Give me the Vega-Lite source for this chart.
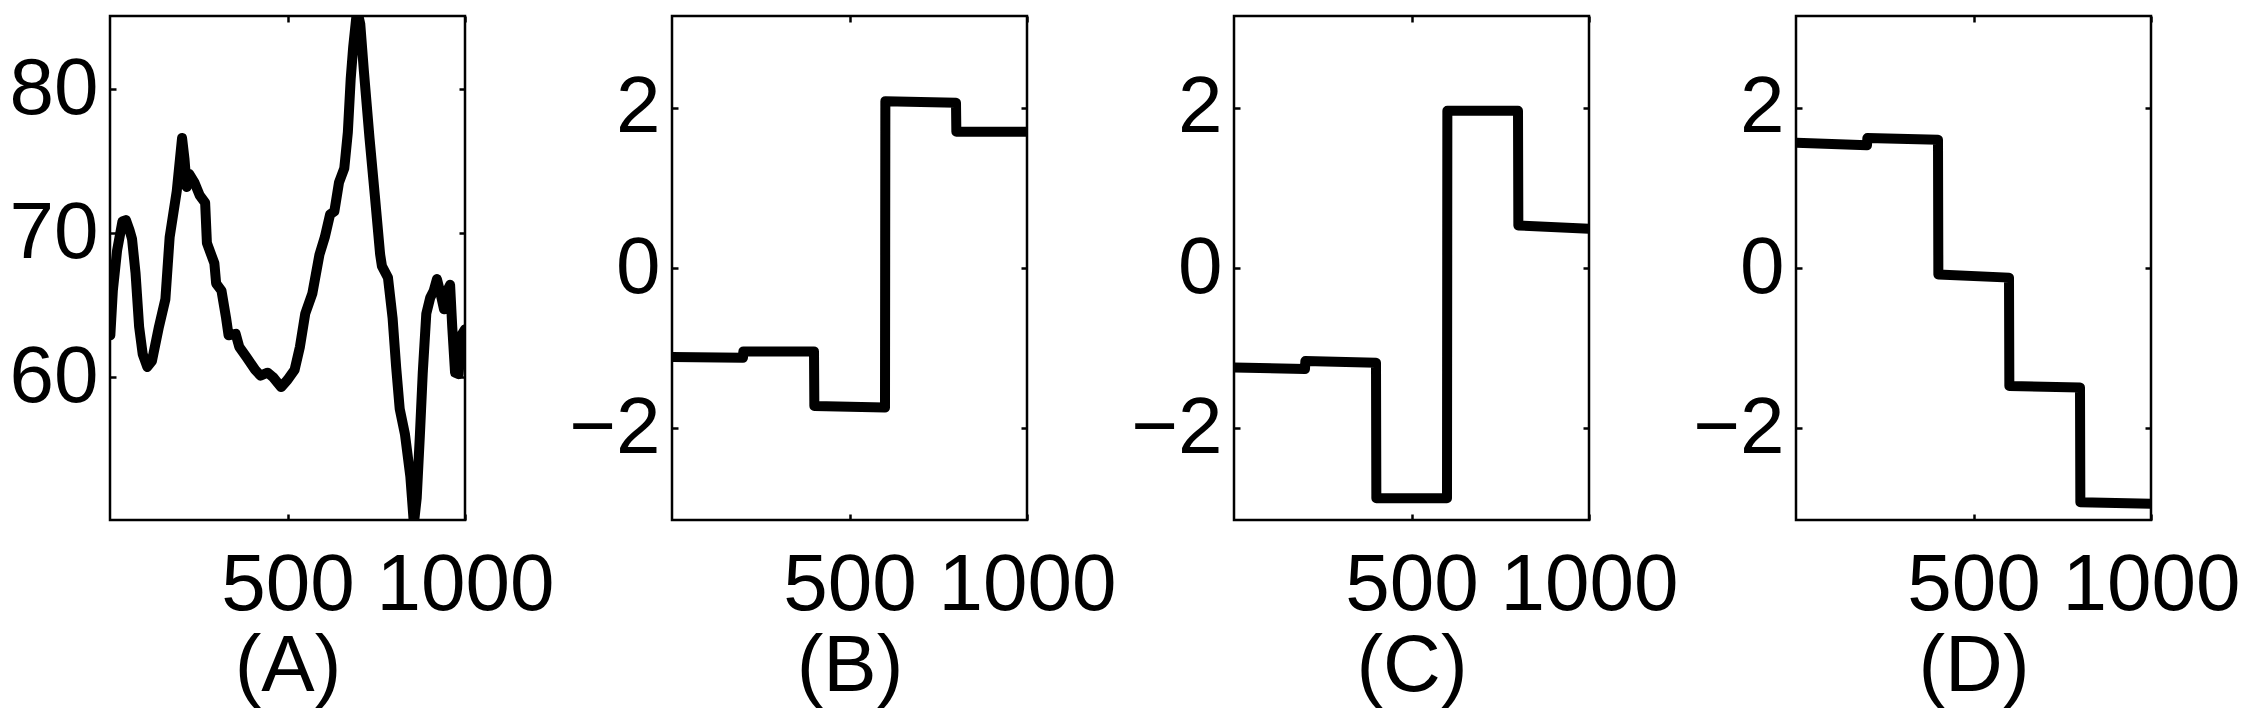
{
  "$schema": "https://vega.github.io/schema/vega-lite/v6.json",
  "background": "white",
  "padding": {"left": 7, "top": 13, "right": 0, "bottom": 0},
  "datasets": {
    "A": [
      {"x": 1, "y": 62.9}, {"x": 8, "y": 66.0}, {"x": 20, "y": 68.8}, {"x": 35, "y": 70.8}, {"x": 45, "y": 70.9},
      {"x": 55, "y": 70.2}, {"x": 62, "y": 69.6}, {"x": 72, "y": 67.2}, {"x": 82, "y": 63.5}, {"x": 92, "y": 61.6},
      {"x": 105, "y": 60.7}, {"x": 118, "y": 61.1}, {"x": 138, "y": 63.5}, {"x": 156, "y": 65.4}, {"x": 168, "y": 69.7},
      {"x": 188, "y": 72.9}, {"x": 203, "y": 76.6}, {"x": 210, "y": 75.1}, {"x": 216, "y": 73.2}, {"x": 223, "y": 74.1},
      {"x": 238, "y": 73.5}, {"x": 253, "y": 72.6}, {"x": 268, "y": 72.1}, {"x": 273, "y": 69.3}, {"x": 294, "y": 67.9},
      {"x": 299, "y": 66.5}, {"x": 314, "y": 66.0}, {"x": 327, "y": 64.1}, {"x": 334, "y": 62.9}, {"x": 354, "y": 63.0},
      {"x": 364, "y": 62.1}, {"x": 384, "y": 61.4}, {"x": 409, "y": 60.5}, {"x": 424, "y": 60.1}, {"x": 444, "y": 60.3},
      {"x": 459, "y": 60.0}, {"x": 482, "y": 59.3}, {"x": 500, "y": 59.8}, {"x": 520, "y": 60.5}, {"x": 535, "y": 62.1},
      {"x": 550, "y": 64.4}, {"x": 570, "y": 65.8}, {"x": 590, "y": 68.5}, {"x": 605, "y": 69.7}, {"x": 620, "y": 71.3},
      {"x": 632, "y": 71.5}, {"x": 645, "y": 73.5}, {"x": 660, "y": 74.5}, {"x": 670, "y": 77.0}, {"x": 678, "y": 80.7},
      {"x": 685, "y": 82.9}, {"x": 696, "y": 85.5}, {"x": 705, "y": 84.5}, {"x": 715, "y": 81.3}, {"x": 731, "y": 76.6},
      {"x": 746, "y": 72.6}, {"x": 761, "y": 68.5}, {"x": 766, "y": 67.7}, {"x": 783, "y": 66.9}, {"x": 796, "y": 64.1},
      {"x": 806, "y": 60.7}, {"x": 816, "y": 57.8}, {"x": 831, "y": 56.0}, {"x": 846, "y": 53.1}, {"x": 856, "y": 49.8},
      {"x": 864, "y": 51.6}, {"x": 873, "y": 56.0}, {"x": 881, "y": 60.3}, {"x": 891, "y": 64.4}, {"x": 902, "y": 65.5},
      {"x": 912, "y": 66.0}, {"x": 921, "y": 66.8}, {"x": 932, "y": 65.7}, {"x": 941, "y": 64.7}, {"x": 950, "y": 66.0},
      {"x": 958, "y": 66.4}, {"x": 964, "y": 63.5}, {"x": 972, "y": 60.3}, {"x": 982, "y": 60.2}, {"x": 990, "y": 62.9},
      {"x": 1000, "y": 63.3}
    ],
    "B": [
      {"x": 1, "y": -1.11}, {"x": 200, "y": -1.12}, {"x": 201, "y": -1.04}, {"x": 400, "y": -1.04},
      {"x": 401, "y": -1.72}, {"x": 600, "y": -1.74}, {"x": 601, "y": 2.08}, {"x": 800, "y": 2.06},
      {"x": 801, "y": 1.70}, {"x": 1000, "y": 1.70}
    ],
    "C": [
      {"x": 1, "y": -1.24}, {"x": 200, "y": -1.26}, {"x": 201, "y": -1.16}, {"x": 400, "y": -1.18},
      {"x": 401, "y": -2.87}, {"x": 600, "y": -2.87}, {"x": 601, "y": 1.96}, {"x": 800, "y": 1.96},
      {"x": 801, "y": 0.53}, {"x": 1000, "y": 0.49}
    ],
    "D": [
      {"x": 1, "y": 1.56}, {"x": 200, "y": 1.53}, {"x": 201, "y": 1.62}, {"x": 400, "y": 1.60},
      {"x": 401, "y": -0.08}, {"x": 600, "y": -0.12}, {"x": 601, "y": -1.47}, {"x": 800, "y": -1.49},
      {"x": 801, "y": -2.92}, {"x": 1000, "y": -2.94}
    ]
  },
  "spacing": 207,
  "bounds": "flush",
  "hconcat": [
    {
      "width": 355, "height": 504,
      "data": {"name": "A"},
      "layer": [
        {"mark": {"type": "line", "color": "black", "strokeWidth": 10, "clip": true, "strokeJoin": "round", "strokeCap": "round"},
         "encoding": {
           "x": {"field": "x", "type": "quantitative", "scale": {"domain": [0, 1000], "nice": false, "zero": false}, "axis": {"orient": "bottom", "values": [500, 1000], "format": "d", "title": "(A)"}},
           "y": {"field": "y", "type": "quantitative", "scale": {"domain": [50.07, 85.07], "nice": false, "zero": false}, "axis": {"orient": "left", "values": [60, 70, 80], "format": "d", "title": null}}
         }},
        {"mark": {"type": "line", "opacity": 0, "clip": true},
         "encoding": {
           "x": {"field": "x", "type": "quantitative", "scale": {"domain": [0, 1000], "nice": false, "zero": false}, "axis": {"orient": "top", "values": [500, 1000], "labels": false, "title": null}},
           "y": {"field": "y", "type": "quantitative", "scale": {"domain": [50.07, 85.07], "nice": false, "zero": false}, "axis": {"orient": "right", "values": [60, 70, 80], "labels": false, "title": null}}
         }}
      ],
      "resolve": {"axis": {"x": "independent", "y": "independent"}}
    },
    {
      "width": 355, "height": 504,
      "data": {"name": "B"},
      "layer": [
        {"mark": {"type": "line", "color": "black", "strokeWidth": 10, "clip": true, "strokeJoin": "round", "strokeCap": "round"},
         "encoding": {
           "x": {"field": "x", "type": "quantitative", "scale": {"domain": [0, 1000], "nice": false, "zero": false}, "axis": {"orient": "bottom", "values": [500, 1000], "format": "d", "title": "(B)"}},
           "y": {"field": "y", "type": "quantitative", "scale": {"domain": [-3.1416, 3.1416], "nice": false, "zero": false}, "axis": {"orient": "left", "values": [-2, 0, 2], "format": "d", "title": null}}
         }},
        {"mark": {"type": "line", "opacity": 0, "clip": true},
         "encoding": {
           "x": {"field": "x", "type": "quantitative", "scale": {"domain": [0, 1000], "nice": false, "zero": false}, "axis": {"orient": "top", "values": [500, 1000], "labels": false, "title": null}},
           "y": {"field": "y", "type": "quantitative", "scale": {"domain": [-3.1416, 3.1416], "nice": false, "zero": false}, "axis": {"orient": "right", "values": [-2, 0, 2], "labels": false, "title": null}}
         }}
      ],
      "resolve": {"axis": {"x": "independent", "y": "independent"}}
    },
    {
      "width": 355, "height": 504,
      "data": {"name": "C"},
      "layer": [
        {"mark": {"type": "line", "color": "black", "strokeWidth": 10, "clip": true, "strokeJoin": "round", "strokeCap": "round"},
         "encoding": {
           "x": {"field": "x", "type": "quantitative", "scale": {"domain": [0, 1000], "nice": false, "zero": false}, "axis": {"orient": "bottom", "values": [500, 1000], "format": "d", "title": "(C)"}},
           "y": {"field": "y", "type": "quantitative", "scale": {"domain": [-3.1416, 3.1416], "nice": false, "zero": false}, "axis": {"orient": "left", "values": [-2, 0, 2], "format": "d", "title": null}}
         }},
        {"mark": {"type": "line", "opacity": 0, "clip": true},
         "encoding": {
           "x": {"field": "x", "type": "quantitative", "scale": {"domain": [0, 1000], "nice": false, "zero": false}, "axis": {"orient": "top", "values": [500, 1000], "labels": false, "title": null}},
           "y": {"field": "y", "type": "quantitative", "scale": {"domain": [-3.1416, 3.1416], "nice": false, "zero": false}, "axis": {"orient": "right", "values": [-2, 0, 2], "labels": false, "title": null}}
         }}
      ],
      "resolve": {"axis": {"x": "independent", "y": "independent"}}
    },
    {
      "width": 355, "height": 504,
      "data": {"name": "D"},
      "layer": [
        {"mark": {"type": "line", "color": "black", "strokeWidth": 10, "clip": true, "strokeJoin": "round", "strokeCap": "round"},
         "encoding": {
           "x": {"field": "x", "type": "quantitative", "scale": {"domain": [0, 1000], "nice": false, "zero": false}, "axis": {"orient": "bottom", "values": [500, 1000], "format": "d", "title": "(D)"}},
           "y": {"field": "y", "type": "quantitative", "scale": {"domain": [-3.1416, 3.1416], "nice": false, "zero": false}, "axis": {"orient": "left", "values": [-2, 0, 2], "format": "d", "title": null}}
         }},
        {"mark": {"type": "line", "opacity": 0, "clip": true},
         "encoding": {
           "x": {"field": "x", "type": "quantitative", "scale": {"domain": [0, 1000], "nice": false, "zero": false}, "axis": {"orient": "top", "values": [500, 1000], "labels": false, "title": null}},
           "y": {"field": "y", "type": "quantitative", "scale": {"domain": [-3.1416, 3.1416], "nice": false, "zero": false}, "axis": {"orient": "right", "values": [-2, 0, 2], "labels": false, "title": null}}
         }}
      ],
      "resolve": {"axis": {"x": "independent", "y": "independent"}}
    }
  ],
  "config": {
    "font": "Liberation Sans",
    "view": {"stroke": "black", "strokeWidth": 2.5},
    "axis": {
      "domain": false, "grid": false,
      "tickColor": "black", "tickWidth": 2.5, "tickSize": -6,
      "labelFont": "Liberation Sans", "labelFontSize": 80, "labelColor": "black", "labelLimit": 0,
      "labelFlush": false, "labelOverlap": false, "labelBound": false,
      "titleFont": "Liberation Sans", "titleFontSize": 80, "titleFontWeight": "normal", "titleColor": "black", "titlePadding": 2
    },
    "axisX": {"labelPadding": 32},
    "axisY": {"labelPadding": 18}
  }
}
